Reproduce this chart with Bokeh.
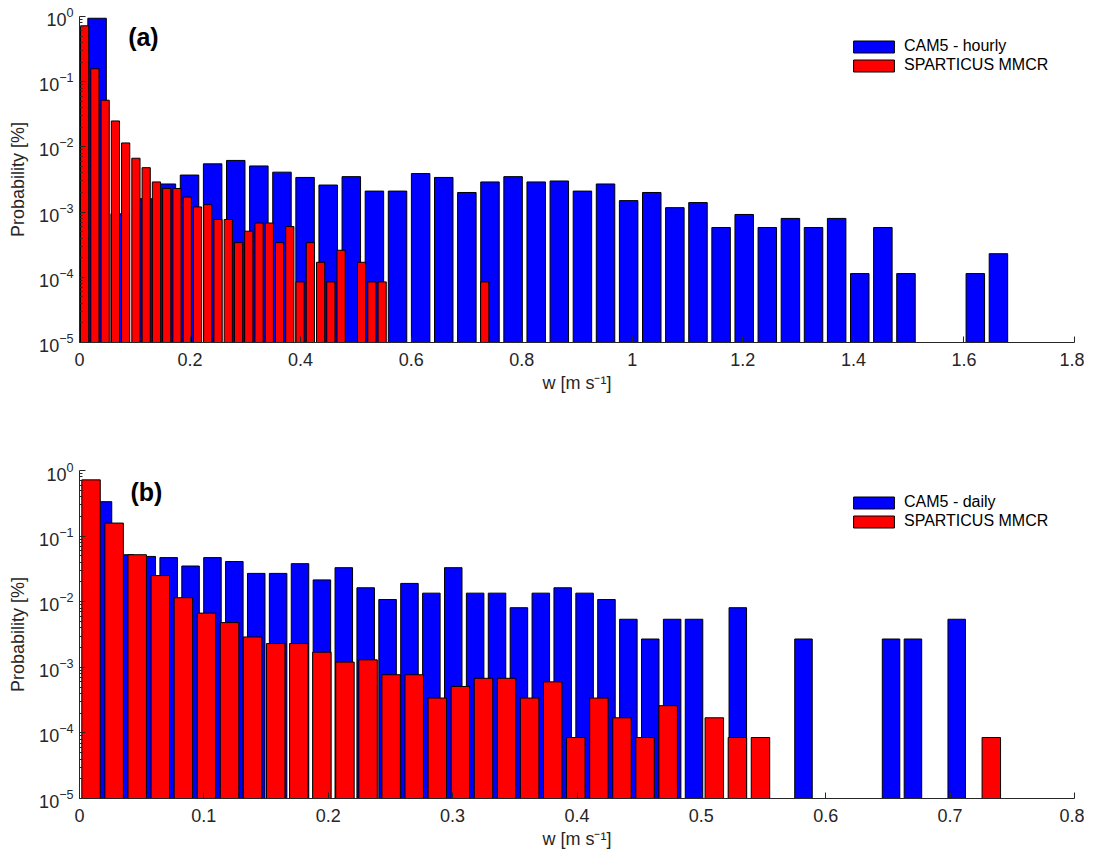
import numpy as np
from bokeh.plotting import figure
from bokeh.models import Range1d, FixedTicker, Label
from bokeh.layouts import column
from bokeh.embed import file_html
from bokeh.resources import INLINE

# ---------------- data ----------------
# histogram bin geometry (first bin centre and bin width, m s-1)
sparticus_first_center = 0.00928
sparticus_bin_width = 0.01856
hourly_first_center = 0.0318
hourly_bin_width = 0.04181
daily_first_center = 0.0189
daily_bin_width = 0.0176

# SPARTICUS MMCR probability (same in both panels)
sparticus_mmcr = [0.72, 0.158, 0.052, 0.025, 0.0115, 0.0067, 0.0048, 0.0029, 0.0023, 0.0023,
                  0.0017, 0.0012, 0.0013, 0.00077, 0.00077, 0.00034, 0.00051, 0.00068, 0.00068, 0.00034,
                  0.0006, 0.000085, 0.00034, 0.00017, 0.000085, 0.00026, 0, 0.00017, 0.000085, 0.000085,
                  0, 0, 0, 0, 0, 0, 0, 0, 0, 0.000085]

# CAM5 hourly probability
cam5_hourly = [0.94, 0.00094, 0.0016, 0.0027, 0.0037, 0.0055, 0.0062, 0.0051, 0.0041, 0.0034,
               0.0026, 0.0035, 0.0021, 0.0021, 0.0039, 0.0034, 0.002, 0.0029, 0.0035, 0.0029,
               0.003, 0.0021, 0.0027, 0.0015, 0.002, 0.00117, 0.0014, 0.00058, 0.00092, 0.00058,
               0.0008, 0.00058, 0.0008, 0.000114, 0.00058, 0.000114, 0, 0, 0.000114, 0.00023]

# CAM5 daily probability
cam5_daily = [0.335, 0.052, 0.049, 0.047, 0.035, 0.047, 0.041, 0.027, 0.027, 0.038,
              0.0215, 0.033, 0.0163, 0.0108, 0.019, 0.0135, 0.033, 0.0135, 0.0135, 0.0081,
              0.0135, 0.0163, 0.0135, 0.0108, 0.0054, 0.0027, 0.0054, 0.0054, 0, 0.0081,
              0, 0, 0.0027, 0, 0, 0, 0.0027, 0.0027, 0, 0.0054]

x_ticks_a = [0, 0.2, 0.4, 0.6, 0.8, 1, 1.2, 1.4, 1.6, 1.8]
x_tick_labels_a = ["0", "0.2", "0.4", "0.6", "0.8", "1", "1.2", "1.4", "1.6", "1.8"]
x_ticks_b = [0, 0.1, 0.2, 0.3, 0.4, 0.5, 0.6, 0.7, 0.8]
x_tick_labels_b = ["0", "0.1", "0.2", "0.3", "0.4", "0.5", "0.6", "0.7", "0.8"]
y_ticks = [1e-5, 1e-4, 1e-3, 1e-2, 1e-1, 1]

YMIN, YMAX = 1e-5, 1.0
FONT = "Liberation Sans"
AX = "#262626"
BAR_FRAC = 0.8


def bars(values, first_center, width):
    v = np.asarray(values, dtype=float)
    c = first_center + width * np.arange(len(v))
    top = np.where(v > 0, v, YMIN)
    return dict(left=c - BAR_FRAC * width / 2, right=c + BAR_FRAC * width / 2,
                top=top, bottom=np.full(len(v), YMIN))


def panel(blue_vals, b_first, b_width, blue_label, xmax, xticks, xlabels,
          tag, tag_x, tag_y, height, border_top, border_bottom):
    p = figure(width=1084, height=height, x_range=Range1d(0, xmax), y_range=Range1d(YMIN, YMAX),
               y_axis_type="log", output_backend="svg", toolbar_location=None,
               min_border_left=79, min_border_right=10, min_border_top=border_top,
               min_border_bottom=border_bottom)
    p.xgrid.grid_line_color = None
    p.ygrid.grid_line_color = None
    p.outline_line_color = None
    p.background_fill_color = "white"

    p.quad(**bars(blue_vals, b_first, b_width), fill_color="#0000FF", line_color="black",
           line_width=1, legend_label=blue_label)
    p.quad(**bars(sparticus_mmcr, sparticus_first_center, sparticus_bin_width), fill_color="#FF0000",
           line_color="black", line_width=1, legend_label="SPARTICUS MMCR")

    # axes
    minor = [m * 10.0 ** e for e in range(-5, 0) for m in range(2, 10)]
    p.yaxis.ticker = FixedTicker(ticks=y_ticks, minor_ticks=minor)
    p.xaxis.ticker = FixedTicker(ticks=xticks)
    p.xaxis.major_label_overrides = {t: s for t, s in zip(xticks, xlabels)}
    for ax in (p.xaxis[0], p.yaxis[0]):
        ax.axis_line_color = AX
        ax.major_tick_line_color = AX
        ax.minor_tick_line_color = AX
        ax.major_tick_in = 6
        ax.major_tick_out = 0
        ax.minor_tick_in = 3
        ax.minor_tick_out = 0
        ax.major_label_text_font = FONT
        ax.major_label_text_font_size = "18px"
        ax.major_label_text_color = AX
        ax.axis_label_text_font = FONT
        ax.axis_label_text_font_size = "18px"
        ax.axis_label_text_font_style = "normal"
        ax.axis_label_text_color = AX
    p.xaxis.minor_tick_line_color = None
    p.xaxis.major_label_standoff = 10
    p.xaxis.axis_label_standoff = 4
    p.yaxis.major_label_standoff = 6
    p.yaxis.axis_label_standoff = 8
    p.xaxis.axis_label = "w [m s\u207b\u00b9]"
    p.yaxis.axis_label = "Probability [%]"

    # legend
    lg = p.legend[0]
    lg.location = (769, 268)
    lg.border_line_color = None
    lg.background_fill_alpha = 0
    lg.padding = 0
    lg.margin = 0
    lg.spacing = 1
    lg.glyph_width = 51
    lg.glyph_height = 15
    lg.label_height = 15
    lg.label_standoff = 5
    lg.label_text_font = FONT
    lg.label_text_font_size = "16px"
    lg.label_text_color = "black"

    p.add_layout(Label(x=tag_x, y=tag_y, text=tag, text_font=FONT, text_font_size="25px",
                       text_font_style="bold", text_baseline="middle", text_color="black"))
    return p


p1 = panel(cam5_hourly, hourly_first_center, hourly_bin_width, "CAM5 - hourly", 1.8,
           x_ticks_a, x_tick_labels_a, "(a)", 0.088, 0.48, 462, 16, 120)
p2 = panel(cam5_daily, daily_first_center, daily_bin_width, "CAM5 - daily", 0.8,
           x_ticks_b, x_tick_labels_b, "(b)", 0.041, 0.475, 396, 8, 60)

layout = column(p1, p2, spacing=0)
open("out.html", "w").write(file_html(layout, INLINE))
